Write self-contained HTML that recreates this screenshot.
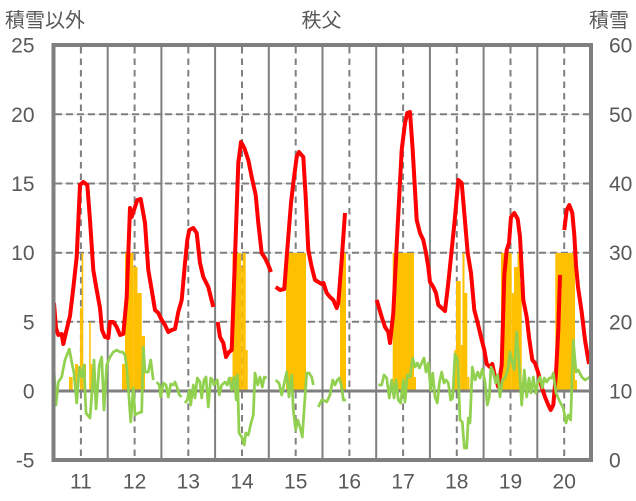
<!DOCTYPE html>
<html><head><meta charset="utf-8"><style>
html,body{margin:0;padding:0;background:#fff;}
svg{display:block;}
text{font-family:"Liberation Sans","Noto Sans CJK JP",sans-serif;fill:#595959;}
</style></head><body>
<svg width="636" height="501" viewBox="0 0 636 501" xmlns="http://www.w3.org/2000/svg">
<rect x="0" y="0" width="636" height="501" fill="#fff"/>
<!-- light grid -->
<g stroke="#D9D9D9" stroke-width="1">
<line x1="53" y1="114.3" x2="591" y2="114.3"/>
<line x1="53" y1="183.5" x2="591" y2="183.5"/>
<line x1="53" y1="252.7" x2="591" y2="252.7"/>
<line x1="53" y1="321.8" x2="591" y2="321.8"/>
</g>
<!-- dashed horizontal -->
<g stroke="#7F7F7F" stroke-width="2" stroke-dasharray="7 4">
<line x1="55" y1="114.3" x2="589" y2="114.3"/>
<line x1="55" y1="183.5" x2="589" y2="183.5"/>
<line x1="55" y1="252.7" x2="589" y2="252.7"/>
<line x1="55" y1="321.8" x2="589" y2="321.8"/>
</g>
<!-- solid verticals -->
<g stroke="#7F7F7F" stroke-width="2">
<line x1="107.7" y1="45" x2="107.7" y2="460"/>
<line x1="161.4" y1="45" x2="161.4" y2="460"/>
<line x1="215.1" y1="45" x2="215.1" y2="460"/>
<line x1="268.8" y1="45" x2="268.8" y2="460"/>
<line x1="322.5" y1="45" x2="322.5" y2="460"/>
<line x1="376.2" y1="45" x2="376.2" y2="460"/>
<line x1="429.9" y1="45" x2="429.9" y2="460"/>
<line x1="483.6" y1="45" x2="483.6" y2="460"/>
<line x1="537.3" y1="45" x2="537.3" y2="460"/>
</g>
<!-- dashed verticals -->
<g stroke="#7F7F7F" stroke-width="2" stroke-dasharray="6.5 5">
<line x1="80.9" y1="47" x2="80.9" y2="460"/>
<line x1="134.6" y1="47" x2="134.6" y2="460"/>
<line x1="188.3" y1="47" x2="188.3" y2="460"/>
<line x1="242" y1="47" x2="242" y2="460"/>
<line x1="295.7" y1="47" x2="295.7" y2="460"/>
<line x1="349.4" y1="47" x2="349.4" y2="460"/>
<line x1="403.1" y1="47" x2="403.1" y2="460"/>
<line x1="456.8" y1="47" x2="456.8" y2="460"/>
<line x1="510.5" y1="47" x2="510.5" y2="460"/>
<line x1="564.2" y1="47" x2="564.2" y2="460"/>
</g>
<!-- bars -->
<g fill="#FFC000">
<rect x="69" y="377" width="3.7" height="14"/>
<rect x="75" y="364" width="3" height="27"/>
<rect x="80" y="308" width="1.7" height="83"/>
<rect x="81.7" y="253" width="1.6" height="138"/>
<rect x="83.3" y="364" width="2.7" height="27"/>
<rect x="89.2" y="322" width="1.5" height="69"/>
<rect x="90.7" y="364" width="1.5" height="27"/>
<rect x="122" y="364" width="3" height="27"/>
<rect x="125" y="253" width="8.3" height="138"/>
<rect x="133.3" y="267" width="4.2" height="124"/>
<rect x="137.5" y="293" width="4.2" height="98"/>
<rect x="141.7" y="336" width="3.3" height="55"/>
<rect x="230" y="377" width="2.5" height="14"/>
<rect x="232.5" y="253" width="8.7" height="138"/>
<rect x="241.2" y="267" width="1.5" height="124"/>
<rect x="242.7" y="253" width="3" height="138"/>
<rect x="245.7" y="350" width="2" height="41"/>
<rect x="286" y="253" width="20" height="138"/>
<rect x="340" y="253" width="6" height="138"/>
<rect x="392.7" y="253" width="21.3" height="138"/>
<rect x="414" y="377" width="2" height="14"/>
<rect x="454.3" y="350" width="1.7" height="41"/>
<rect x="456" y="281" width="4.7" height="110"/>
<rect x="460.7" y="345" width="1.8" height="46"/>
<rect x="462.5" y="253" width="2" height="138"/>
<rect x="464.5" y="293" width="2.8" height="98"/>
<rect x="467.3" y="377" width="2.2" height="14"/>
<rect x="501" y="253" width="10.7" height="138"/>
<rect x="511.7" y="293" width="2.3" height="98"/>
<rect x="514" y="267" width="3.5" height="124"/>
<rect x="517.5" y="253" width="2.5" height="138"/>
<rect x="520" y="282" width="1.7" height="109"/>
<rect x="555.3" y="253" width="19.7" height="138"/>
<rect x="575" y="380" width="2" height="11"/>
</g>
<!-- zero line -->
<line x1="53" y1="391" x2="591" y2="391" stroke="#7F7F7F" stroke-width="3"/>
<!-- red lines -->
<g fill="none" stroke="#FF0000" stroke-width="4" stroke-linejoin="round" stroke-linecap="butt">
<polyline points="54,303 56,328 58.3,335 61.7,334 63.3,344 66.3,331 70,316 73.3,288 76.7,257 80,185 83.3,182 87.3,185 90,220 93.3,270 96.7,290 100,308 102,330 105,337 108.3,338 110,322 113.3,322 116.7,327 120,335 123.3,334 126.7,297 130,208 131.7,217 135,207 137.3,200 140.7,199 145,223 148.3,270 151.7,290 155,310 158.3,313 161.7,320 165,325 168.3,332 171.7,330 175,329 178.3,312 181.7,300 185,263 187.3,240 189.3,230 193.3,228 196.7,233 200,263 203.3,277 208.3,287 213.3,307"/>
<polyline points="217.7,322 220,337 223.3,343 226,357 229,352 231.7,350 235,257 238.3,163 241,142 244.3,148 248.3,160 251.7,177 255.7,195 258.3,223 261.7,253 265,258 268.3,265 271,272"/>
<polyline points="275.7,287 280,290 284.3,289 286.7,257 291,203 293.3,183 296.7,157 299,152 303.3,157 305.7,197 308.3,250 311.7,267 315,280 318.3,282 321.7,284 323.5,283 326.7,293 330,297 333.3,300 336.7,308 338.3,303 341.7,260 345,213"/>
<polyline points="376.7,300 381.7,317 385,327 388.3,332 390,343 393.3,313 397.3,233 401.7,150 405,123 407.3,113 410,112 412.7,150 416.7,220 420,233 423.3,240 426,253 428.3,267 430,282 433.3,287 436,293 438.3,305 441.7,308 445,311 448.3,283 451.7,250 455,217 458.3,180 461.7,183 464.3,213 467.7,253 471,273 474.3,310 477.7,323 481,337 484.3,350 486.7,364 490,367 492.3,364 495,377 498.3,387 501.7,365 504.3,275 506.7,250 509,243 511,217 514.3,213 517.7,219 520,237 523.3,300 526.7,317 529,337 532.3,360 535,363 538.3,373 541.7,387 545,397 548.3,405 550.7,410 553.3,405 556,373 558.3,330 560,275"/>
<polyline points="564.3,230 566.7,210 569.3,205 572.3,213 574.3,235 576,265 578,287 581.7,312 585,340 589,364"/>
</g>
<!-- green lines -->
<g fill="none" stroke="#92D050" stroke-width="2.75" stroke-linejoin="round">
<polyline points="53.3,358 56,405 58.3,382 61.7,377 65,360 69.3,349 71.7,362 74,373 76.7,403 79.3,367 81.7,377 84,365 86,413 90,418 92.7,383 94,360 96,409 99.3,365 101.7,357 104,410 106.7,365 110,357 113.3,352 116.7,350 120,352 122.7,352 125,355 127.3,373 130.7,422 133.3,388 135,415 138.3,413 141.7,412 143.3,347 145,372 148.3,372 150.7,360 153.3,380"/>
<polyline points="156.7,382 159.3,385 160.7,397 163.3,383 166,385 168.3,397 170.7,384 173.3,385 175,382 177.3,388 179.3,395 181.7,397"/>
<polyline points="185,403 187.3,400 189.3,390 190.7,405 193.3,385 195,398 197.3,378 200,382 201.7,398 204,380 206,377 208.3,407 210.7,378 212.7,380 214,385 217.3,380 219.3,395 221.7,385 225,382 227.3,385 229.3,378 231.7,390 234,377 236.3,400 237.5,375 239,433 241.7,437 244.3,445 245.7,433 248.3,435 251,423 253.3,415 255,373 257.7,385 260,377 262.3,387 264.3,377 266.7,378"/>
<polyline points="275.7,380 279,383 281.7,395 284.3,383 286.7,372 289,397 291.7,375 293.3,410 295.7,430 297.7,420 300,427 302.3,437 304.3,407 306.7,373 309,373 311.7,377 313.3,385"/>
<polyline points="318.3,407 321.7,400 323.3,400 326.7,402 330,395 332.7,380 335,385 337.3,380 339.3,378 341.7,387 343.3,400 346,400"/>
<polyline points="378.3,385 381.7,385 384,375 386.7,378 389.3,398 391.7,380 394,398 396,380 398.3,400 400.7,403 403.3,380 405,402 407.3,375 410,377 412.7,358 415,367 417.3,363 419.3,368 421.7,363 424,358 426,372 428.3,363 430.7,390 432.7,373 435,397 437.3,403 439.3,383 441.7,372 444,383 446,380 448.3,383 450.7,400 452.7,398 455,354 457.7,360 460,420 462.3,422 464.3,448 466.7,448 468.3,418 470,423 472.3,367 475,380 477.7,372 480,378 482.3,369 485,382 487.3,405 489.3,397 491,367 493.3,372 495.7,383 497.7,375 500,397 502.3,380 505,378 507.7,370 510,352 512.3,363 514.3,370 516.7,332 519,363 521.7,405 524.3,370 526.7,397 529,378 531,393 533.3,377 535.7,393 537.7,383 540,377 542.3,388 544.3,378 546.7,382 549.3,378 551.7,378 553.3,373 556,393 560,402 563.3,408 566,423 568.3,415 570.7,420 573.3,340 576,372 578.3,370 581.7,377 585,380 590,377"/>
</g>
<!-- border -->
<rect x="53.5" y="45" width="537.5" height="415" fill="none" stroke="#7F7F7F" stroke-width="4"/>
<!-- titles -->
<text x="5" y="27" font-size="20">積雪以外</text>
<text x="321.5" y="27" font-size="20" text-anchor="middle">秩父</text>
<text x="589" y="27" font-size="20">積雪</text>
<!-- left ticks -->
<g font-size="21" text-anchor="end">
<text x="34.5" y="52.7">25</text>
<text x="34.5" y="121.8">20</text>
<text x="34.5" y="191">15</text>
<text x="34.5" y="260.2">10</text>
<text x="34.5" y="329.3">5</text>
<text x="34.5" y="398.5">0</text>
<text x="34.5" y="467.7">-5</text>
</g>
<!-- right ticks -->
<g font-size="21">
<text x="609" y="52.7">60</text>
<text x="609" y="121.8">50</text>
<text x="609" y="191">40</text>
<text x="609" y="260.2">30</text>
<text x="609" y="329.3">20</text>
<text x="609" y="398.5">10</text>
<text x="609" y="467.7">0</text>
</g>
<!-- x labels -->
<g font-size="21" text-anchor="middle">
<text x="80.9" y="488.5">11</text>
<text x="134.6" y="488.5">12</text>
<text x="188.3" y="488.5">13</text>
<text x="242" y="488.5">14</text>
<text x="295.7" y="488.5">15</text>
<text x="349.4" y="488.5">16</text>
<text x="403.1" y="488.5">17</text>
<text x="456.8" y="488.5">18</text>
<text x="510.5" y="488.5">19</text>
<text x="564.2" y="488.5">20</text>
</g>
</svg>
</body></html>
